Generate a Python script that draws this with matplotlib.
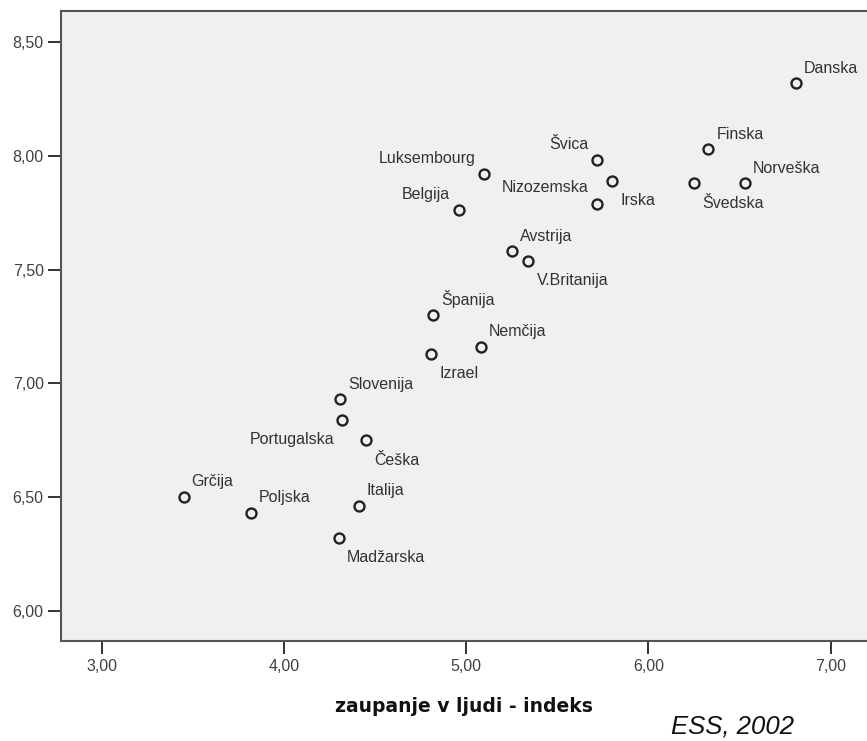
import numpy as np
import matplotlib
matplotlib.use("Agg")
import matplotlib.pyplot as plt

# ESS 2002 - country indices
countries = ["Danska", "Finska", "Norveška", "Švedska", "Švica", "Irska",
             "Nizozemska", "Luksembourg", "Belgija", "Avstrija", "V.Britanija",
             "Španija", "Nemčija", "Izrael", "Slovenija", "Portugalska",
             "Češka", "Grčija", "Poljska", "Italija", "Madžarska"]
trust = [6.81, 6.33, 6.53, 6.25, 5.72, 5.80,
         5.72, 5.10, 4.96, 5.25, 5.34,
         4.82, 5.08, 4.81, 4.31, 4.32,
         4.45, 3.45, 3.82, 4.41, 4.30]
values = [8.32, 8.03, 7.88, 7.88, 7.98, 7.89,
          7.79, 7.92, 7.76, 7.58, 7.54,
          7.30, 7.16, 7.13, 6.93, 6.84,
          6.75, 6.50, 6.43, 6.46, 6.32]
# where each label sits relative to its point
placement = ["ur", "ur", "ur", "lr", "ul", "lr",
             "ul", "ul", "ul", "ur", "lr",
             "ur", "ur", "lr", "ur", "ll",
             "lr", "ur", "ur", "ur", "lr"]

x_ticks = [3, 4, 5, 6, 7]
x_tick_labels = ["3,00", "4,00", "5,00", "6,00", "7,00"]
y_ticks = [6.0, 6.5, 7.0, 7.5, 8.0, 8.5]
y_tick_labels = ["6,00", "6,50", "7,00", "7,50", "8,00", "8,50"]

offsets = {"ur": (8, 10.5, "left"), "lr": (8.5, -24.5, "left"),
           "ul": (-9, 11.5, "right"), "ll": (-8, -24.5, "right")}

fig = plt.figure(figsize=(8.67, 7.41), dpi=100)
ax = fig.add_axes([61 / 867, 1 - 641 / 741, 1 - 61 / 867, (641 - 10.7) / 741])
ax.set_facecolor("#f0f0f0")

ax.plot(trust, values, linestyle="none", marker="o", markersize=7.2,
        markerfacecolor="none", markeredgecolor="#222222", markeredgewidth=1.7)

for name, xv, yv, pl in zip(countries, trust, values, placement):
    dx, dy, ha = offsets[pl]
    ax.annotate(name, (xv, yv), xytext=(dx, dy), textcoords="offset pixels",
                ha=ha, va="baseline", fontsize=11.5, color="#333333",
                family="Liberation Sans")

ax.set_xlim(2.777, 7.2)
ax.set_ylim(5.866, 8.639)
ax.set_xticks(x_ticks)
ax.set_xticklabels(x_tick_labels, family="Liberation Sans", fontsize=11.5, color="#404040")
ax.set_yticks(y_ticks)
ax.set_yticklabels(y_tick_labels, family="Liberation Sans", fontsize=11.5, color="#404040")
ax.tick_params(axis="both", length=9.5, width=1.4, color="#333333")
ax.tick_params(axis="x", pad=3.5)
ax.tick_params(axis="y", pad=3)

for side in ["left", "bottom", "top"]:
    ax.spines[side].set_color("#555555")
    ax.spines[side].set_linewidth(1.5)
ax.spines["right"].set_visible(False)

ax.set_xlabel("zaupanje v ljudi - indeks", fontsize=13.5, fontweight="bold",
              family="DejaVu Sans", color="#111111", va="center")
ax.xaxis.set_label_coords((464 - 61) / (867 - 61), -65 / 630.3)

fig.text(733 / 867, 1 - 733.3 / 741, "ESS, 2002", fontsize=18.5, style="italic",
         family="Liberation Sans", ha="center", va="baseline", color="#111111")

fig.savefig("out.png", dpi=100)
